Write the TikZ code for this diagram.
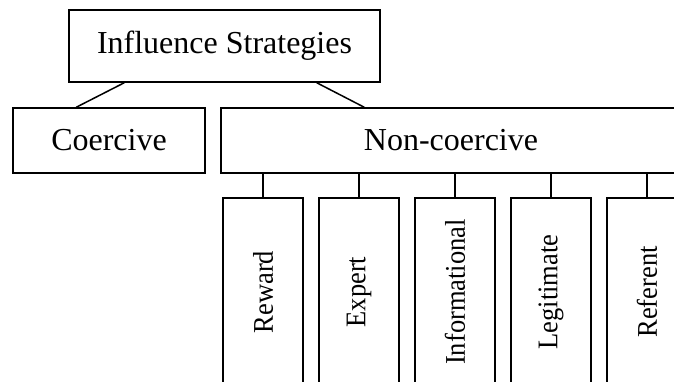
\documentclass[tikz,border=0pt]{standalone}
\usepackage{fontspec}
\setmainfont{Liberation Serif}
\begin{document}
\begin{tikzpicture}[x=1pt,y=-1pt,
  every node/.style={font=\fontsize{32}{36}\selectfont},
  box/.style={draw, line width=1.5pt, inner sep=0pt, anchor=center},
  leaf/.style={box, minimum width=80pt, minimum height=188pt, font=\fontsize{28.5}{32}\selectfont},
  link/.style={line width=1.5pt}]
\useasboundingbox (0,0) rectangle (674,381);
\clip (0,0) rectangle (674,381);
% root and the two main branches
\node[box, minimum width=311pt, minimum height=72pt] (root) at (224.5,46) {Influence Strategies};
\node[box, minimum width=192pt, minimum height=65pt] (coer) at (109,140.5) {Coercive};
\node[box, minimum width=460pt, minimum height=65pt] (non) at (451,140.5) {Non-coercive};
\draw[link] ([xshift=56pt]root.south west) -- ([xshift=64pt]coer.north west);
\draw[link] ([xshift=-64pt]root.south east) -- ([xshift=144pt]non.north west);
% the non-coercive strategies, written upright in slightly condensed type
\foreach \name/\lbl [count=\i from 0] in {rew/Reward, exp/Expert, inf/Informational, leg/Legitimate, ref/Referent}{
  \node[leaf] (\name) at (263+96*\i,292) {\rotatebox{90}{\scalebox{0.93}[1]{\lbl}}};
  \draw[link] (\name.north) -- (\name.north |- non.south);
}
\end{tikzpicture}
\end{document}
